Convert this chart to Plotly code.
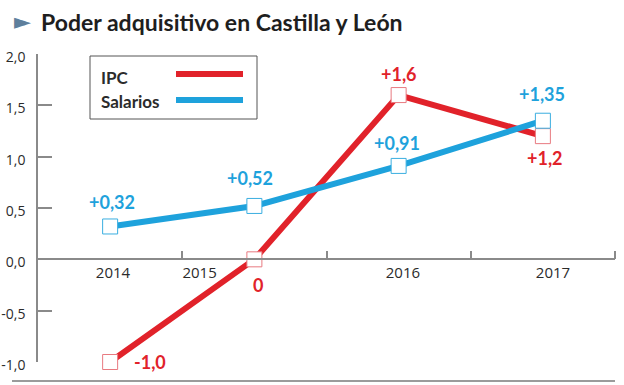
import plotly.graph_objects as go

# ---- data ----
years = ["2014", "2015", "2016", "2017"]
x_index = [0, 1, 2, 3]
ipc = [-1.0, 0.0, 1.6, 1.2]
salarios = [0.32, 0.52, 0.91, 1.35]
ipc_labels = ["-1,0", "0", "+1,6", "+1,2"]
sal_labels = ["+0,32", "+0,52", "+0,91", "+1,35"]
year_label_pos = [0.02, 0.62, 2.03, 3.07]
y_ticks = [-1.0, -0.5, 0.0, 0.5, 1.0, 1.5, 2.0]
y_ticktext = ["-1,0", "-0,5", "0,0", "0,5", "1,0", "1,5", "2,0"]
band_edges = [0.5, 1.5, 2.5, 3.5]

RED = "#e1222a"
BLUE = "#1ea2dc"
GRAY = "#8a8a8a"
TXT = "#2b2b2b"

W, H = 624, 385
# plot area in window pixels
PL, PR, PT, PB = 38, 615, 54, 362
L, R, T, B = PL, W - PR, PT, H - PB
pw, ph = PR - PL, PB - PT


def px(xp):
    return (xp - PL) / pw


def py(yp):
    return (PB - yp) / ph


fig = go.Figure()

fig.add_trace(go.Scatter(
    x=x_index, y=ipc, mode="lines+markers", name="IPC",
    line=dict(color=RED, width=6),
    marker=dict(symbol="square", size=15, color="white",
                line=dict(color="#e87a80", width=1)),
    cliponaxis=False, showlegend=False, hoverinfo="skip"))

fig.add_trace(go.Scatter(
    x=x_index, y=salarios, mode="lines+markers", name="Salarios",
    line=dict(color=BLUE, width=6),
    marker=dict(symbol="square", size=15, color="white",
                line=dict(color="#3aaee0", width=1)),
    cliponaxis=False, showlegend=False, hoverinfo="skip"))

annotations = []
ipc_shift = [(40, 0), (4, -26), (0, 21), (2, -22)]
sal_shift = [(2, 24), (-4, 28), (-2, 23), (-1, 27)]
for xi, v, t, (dx, dy) in zip(x_index, ipc, ipc_labels, ipc_shift):
    annotations.append(dict(x=xi, y=v, xref="x", yref="y", text=t, showarrow=False,
                            xshift=dx, yshift=dy,
                            font=dict(family="Lato", size=18, color=RED, weight="bold")))
for xi, v, t, (dx, dy) in zip(x_index, salarios, sal_labels, sal_shift):
    annotations.append(dict(x=xi, y=v, xref="x", yref="y", text=t, showarrow=False,
                            xshift=dx, yshift=dy,
                            font=dict(family="Lato", size=18, color=BLUE, weight="bold")))

# title
annotations.append(dict(x=px(12), y=py(22), xref="paper", yref="paper", text="►",
                        showarrow=False, xanchor="left", yanchor="middle",
                        font=dict(family="DejaVu Sans", size=22, color="#5e7f9c")))
annotations.append(dict(x=px(39), y=py(22), xref="paper", yref="paper",
                        text="<b>Poder adquisitivo en Castilla y León</b>",
                        showarrow=False, xanchor="left", yanchor="middle",
                        font=dict(family="Lato", size=23, color="#1e1e1e")))

# legend (manual, line to the right of text)
annotations.append(dict(x=px(99), y=py(77), xref="paper", yref="paper", text="<b>IPC</b>",
                        showarrow=False, xanchor="left", yanchor="middle",
                        font=dict(family="Lato", size=17, color=TXT)))
annotations.append(dict(x=px(99), y=py(101), xref="paper", yref="paper", text="<b>Salarios</b>",
                        showarrow=False, xanchor="left", yanchor="middle",
                        font=dict(family="Lato", size=17, color=TXT)))

shapes = [
    dict(type="rect", xref="paper", yref="paper", x0=px(90), x1=px(257), y0=py(119), y1=py(56),
         line=dict(color="#555555", width=1), fillcolor="white"),
    dict(type="line", xref="paper", yref="paper", x0=px(176), x1=px(243), y0=py(74), y1=py(74),
         line=dict(color=RED, width=6)),
    dict(type="line", xref="paper", yref="paper", x0=px(176), x1=px(243), y0=py(100), y1=py(100),
         line=dict(color=BLUE, width=6)),
    dict(type="line", xref="paper", yref="paper", x0=px(12), x1=px(615), y0=py(381), y1=py(381),
         line=dict(color="#7a7a7a", width=1.5)),
]

ymin, ymax = -1.0, 2.0
fig.update_layout(
    width=W, height=H,
    margin=dict(l=L, r=R, t=T, b=B, autoexpand=False),
    paper_bgcolor="white", plot_bgcolor="white",
    annotations=annotations, shapes=shapes,
    hovermode=False,
    xaxis=dict(range=[-0.5, 3.5], anchor="free", position=(0 - ymin) / (ymax - ymin),
               showline=True, linecolor=GRAY, linewidth=1.5, showgrid=False, zeroline=False,
               tickmode="array", tickvals=year_label_pos, ticktext=years, ticks="",
               tickfont=dict(family="Open Sans", size=15, color=TXT),
               minor=dict(tickmode="array", tickvals=band_edges, ticks="inside",
                          ticklen=8, tickcolor=GRAY, tickwidth=1.5, showgrid=False)),
    yaxis=dict(range=[ymin, ymax], showline=True, linecolor=GRAY, linewidth=1.5,
               showgrid=False, zeroline=False,
               tickmode="array", tickvals=y_ticks, ticktext=y_ticktext,
               ticks="inside", ticklen=14, tickcolor=GRAY, tickwidth=1.5,
               ticklabelstandoff=8, ticklabelshift=3,
               tickfont=dict(family="Open Sans", size=14, color=TXT)),
)

fig.write_html("out.html", config={"displayModeBar": False},
               post_script="document.body.style.margin='0';document.body.style.overflow='hidden';")
